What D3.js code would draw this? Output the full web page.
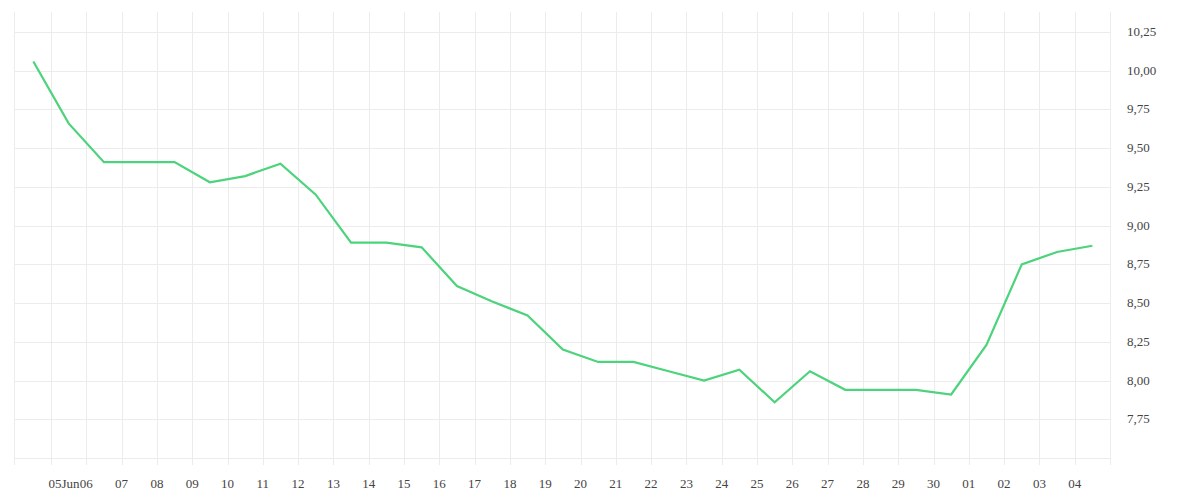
<!DOCTYPE html><html><head><meta charset="utf-8"><script src="https://cdn.jsdelivr.net/npm/d3@7"></script>
<style>body{margin:0;background:#fff}text{font-family:"Liberation Serif",serif;font-size:13px;fill:#444}</style></head><body><svg width="1200" height="500"></svg><script>
const startDate = "2024-06-04T12:00";
const values = [10.06,9.66,9.41,9.41,9.41,9.28,9.32,9.40,9.20,8.89,8.89,8.86,8.61,8.51,8.42,8.20,8.12,8.12,8.06,8.00,8.07,7.86,8.06,7.94,7.94,7.94,7.91,8.23,8.75,8.83,8.87];
const yTicks = [7.75,8.00,8.25,8.50,8.75,9.00,9.25,9.50,9.75,10.00,10.25];
const svg = d3.select("svg");
const d0 = new Date(startDate);
const data = values.map((v,i)=>({d:d3.timeDay.offset(d0,i),v}));
const x = d3.scaleTime().domain([new Date(2024,5,4),new Date(2024,6,5)]).range([15.7,1110]);
const y = d3.scaleLinear().domain([7.5,10.25]).range([458,32]);
const gTop=12,gBot=465,L=14,R=1110;
const days = d3.timeDay.range(new Date(2024,5,5),new Date(2024,6,5));
const g = svg.append("g").attr("stroke","#ececec").attr("stroke-width",1);
g.selectAll(".v").data(days).join("line").attr("x1",d=>Math.round(x(d))+.5).attr("x2",d=>Math.round(x(d))+.5).attr("y1",gTop).attr("y2",gBot);
[L,R].forEach(p=>g.append("line").attr("x1",p+.5).attr("x2",p+.5).attr("y1",gTop).attr("y2",gBot));
g.selectAll(".h").data([7.5,...yTicks]).join("line").attr("x1",L).attr("x2",R).attr("y1",d=>Math.round(y(d))+.5).attr("y2",d=>Math.round(y(d))+.5);
svg.selectAll(".xl").data(days).join("text").attr("x",d=>x(d)+(d.getDate()===5&&d.getMonth()===5?13:0)).attr("y",488).attr("text-anchor","middle")
 .text(d=>d3.timeFormat("%d")(d)+(d.getDate()===5&&d.getMonth()===5?"Jun":""));
svg.selectAll(".yl").data(yTicks).join("text").attr("x",1127).attr("y",d=>y(d)+4).text(d=>d.toFixed(2).replace(".",","));
svg.append("path").datum(data).attr("fill","none").attr("stroke","#4cd37b").attr("stroke-width",2.2)
 .attr("d",d3.line().x(d=>x(d.d)).y(d=>y(d.v)));
</script></body></html>
